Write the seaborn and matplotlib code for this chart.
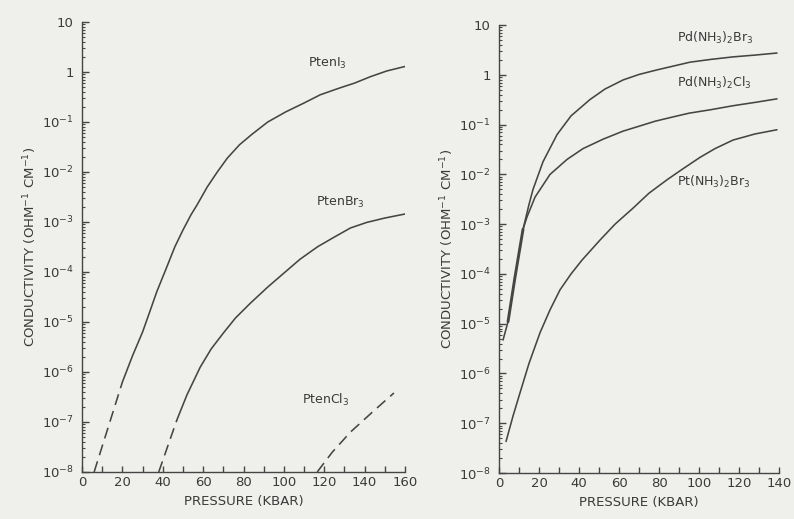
import numpy as np
import pandas as pd
import matplotlib
matplotlib.use("Agg")
import matplotlib.pyplot as plt
from matplotlib.ticker import LogLocator, MultipleLocator, FixedLocator, NullFormatter
import seaborn as sns

# ---- Pt ethylenediamine halides (left panel) ----
pten_i3_dash_p = [6, 20]
pten_i3_dash_s = [1e-8, 6.3e-7]
pten_i3_p = [20, 25, 30, 34, 37, 42, 46, 50, 54, 57, 62, 67, 72, 78, 84, 92, 101, 110,
             118, 127, 135, 143, 151, 162]
pten_i3_s = [6.3e-7, 2.1e-6, 6.3e-6, 1.8e-5, 4.0e-5, 1.26e-4, 3.2e-4, 6.9e-4, 1.4e-3,
             2.2e-3, 5.0e-3, 1.0e-2, 1.9e-2, 3.5e-2, 5.6e-2, 0.1, 0.16, 0.24,
             0.35, 0.47, 0.6, 0.81, 1.05, 1.35]

pten_br3_dash_p = [38, 47]
pten_br3_dash_s = [1e-8, 1.1e-7]
pten_br3_p = [47, 52, 58.6, 64, 70, 76, 83.5, 92, 100, 108, 116.7, 125, 133, 141, 150, 162]
pten_br3_s = [1.1e-7, 3.5e-7, 1.26e-6, 2.9e-6, 6.0e-6, 1.2e-5, 2.4e-5, 5.0e-5, 9.5e-5,
              1.8e-4, 3.2e-4, 5.0e-4, 7.6e-4, 9.8e-4, 1.2e-3, 1.5e-3]

pten_cl3_dash_p = [116.5, 124, 133, 144, 154.5]
pten_cl3_dash_s = [1e-8, 2.5e-8, 6.3e-8, 1.6e-7, 3.8e-7]

# ---- diammine halides (right panel) ----
pd_start_p = [2, 4.5]
pd_start_s = [4.7e-6, 1.1e-5]
pd_common_p = [4.5, 8, 12]
pd_common_s = [1.1e-5, 8.7e-5, 7.9e-4]

pd_br3_p = [12, 15, 17, 22, 29, 36, 45.5, 53, 62, 70, 79, 95.5, 106, 117, 128, 139]
pd_br3_s = [7.9e-4, 2.5e-3, 5.0e-3, 1.8e-2, 6.3e-2, 0.15, 0.32, 0.52, 0.79, 1.02, 1.26,
            1.8, 2.05, 2.3, 2.5, 2.75]

pd_cl3_p = [12, 14, 18, 25.5, 34, 42, 52, 62, 70, 78, 86, 95, 106, 117, 128, 139]
pd_cl3_s = [7.9e-4, 1.4e-3, 3.5e-3, 1.0e-2, 2.0e-2, 3.3e-2, 5.1e-2, 7.4e-2, 9.3e-2,
            0.117, 0.14, 0.17, 0.2, 0.24, 0.28, 0.33]

pt_br3_p = [3.5, 7, 10.5, 15, 20.5, 25.5, 30.5, 36, 41.5, 50.5, 58, 67, 75, 84, 92,
            100.5, 108, 117, 128, 139]
pt_br3_s = [4.3e-8, 1.4e-7, 4.1e-7, 1.6e-6, 6.6e-6, 1.9e-5, 4.8e-5, 1.0e-4, 1.9e-4,
            4.8e-4, 1.0e-3, 2.1e-3, 4.2e-3, 7.8e-3, 1.3e-2, 2.2e-2, 3.3e-2, 4.9e-2,
            6.5e-2, 7.9e-2]

decades = [1e-8, 1e-7, 1e-6, 1e-5, 1e-4, 1e-3, 1e-2, 1e-1, 1, 10]
decade_labels = [r"$10^{-8}$", r"$10^{-7}$", r"$10^{-6}$", r"$10^{-5}$", r"$10^{-4}$",
                 r"$10^{-3}$", r"$10^{-2}$", r"$10^{-1}$", "1", "10"]

sns.set_theme(style="ticks")
paper = "#efefec"
ink = "#454545"
txt = "#3a3a3a"
plt.rcParams["font.family"] = ["DejaVu Sans"]
plt.rcParams["mathtext.default"] = "regular"

fig = plt.figure(figsize=(7.94, 5.19), dpi=100, facecolor=paper)
axL = fig.add_axes([0.1033, 0.0906, 0.4068, 0.867])
axR = fig.add_axes([0.6285, 0.0886, 0.3526, 0.863])

lw = 1.15
dash = (0, (7, 4))


def curve(ax, p, s, **kw):
    df = pd.DataFrame({"p": p, "s": s})
    sns.lineplot(data=df, x="p", y="s", ax=ax, sort=False, estimator=None,
                 color=ink, lw=kw.pop("lw", lw), **kw)


# left panel curves
curve(axL, pten_i3_dash_p, pten_i3_dash_s, linestyle=dash)
curve(axL, pten_i3_p, pten_i3_s)
curve(axL, pten_br3_dash_p, pten_br3_dash_s, linestyle=dash)
curve(axL, pten_br3_p, pten_br3_s)
curve(axL, pten_cl3_dash_p, pten_cl3_dash_s, linestyle=dash)

# right panel curves
curve(axR, pd_start_p, pd_start_s)
curve(axR, pd_common_p, pd_common_s, lw=2.1)
curve(axR, pd_br3_p, pd_br3_s)
curve(axR, pd_cl3_p, pd_cl3_s)
curve(axR, pt_br3_p, pt_br3_s)

for ax, xmax in ((axL, 160), (axR, 140)):
    ax.set_facecolor(paper)
    ax.set_yscale("log")
    ax.set_ylim(1e-8, 10)
    ax.set_xlim(0, xmax)
    for side in ("top", "right"):
        ax.spines[side].set_visible(False)
    for side in ("left", "bottom"):
        ax.spines[side].set_color(ink)
        ax.spines[side].set_linewidth(1.0)
    ax.yaxis.set_major_locator(FixedLocator(decades))
    ax.set_yticklabels(decade_labels)
    ax.yaxis.set_minor_locator(LogLocator(base=10, subs=np.arange(2, 10), numticks=20))
    ax.yaxis.set_minor_formatter(NullFormatter())
    ax.xaxis.set_major_locator(MultipleLocator(20))
    ax.xaxis.set_minor_locator(MultipleLocator(10))
    ax.tick_params(axis="both", which="both", direction="in", colors=ink,
                   labelcolor=txt, labelsize=9.5)
    ax.tick_params(axis="y", which="major", length=5, width=1.0, pad=6)
    ax.tick_params(axis="y", which="minor", length=2.5, width=0.8)
    ax.tick_params(axis="x", which="both", length=4, width=1.0, pad=3)
    ax.set_xlabel("PRESSURE (KBAR)", fontsize=9.5, color=txt, labelpad=4)
    ax.set_ylabel(r"CONDUCTIVITY (OHM$^{-1}$ CM$^{-1}$)", fontsize=9.5, color=txt, labelpad=2)
    ax.grid(False)

# curve names
lab = dict(fontsize=9, color=txt, ha="left", va="center")
axL.text(112, 1.45, r"PtenI$_3$", **lab)
axL.text(116, 2.5e-3, r"PtenBr$_3$", **lab)
axL.text(109, 2.75e-7, r"PtenCl$_3$", **lab)
axR.text(89, 5.5, r"Pd(NH$_3$)$_2$Br$_3$", **lab)
axR.text(89, 0.68, r"Pd(NH$_3$)$_2$Cl$_3$", **lab)
axR.text(89, 7.0e-3, r"Pt(NH$_3$)$_2$Br$_3$", **lab)

fig.savefig("out.png", dpi=100, facecolor=paper)
